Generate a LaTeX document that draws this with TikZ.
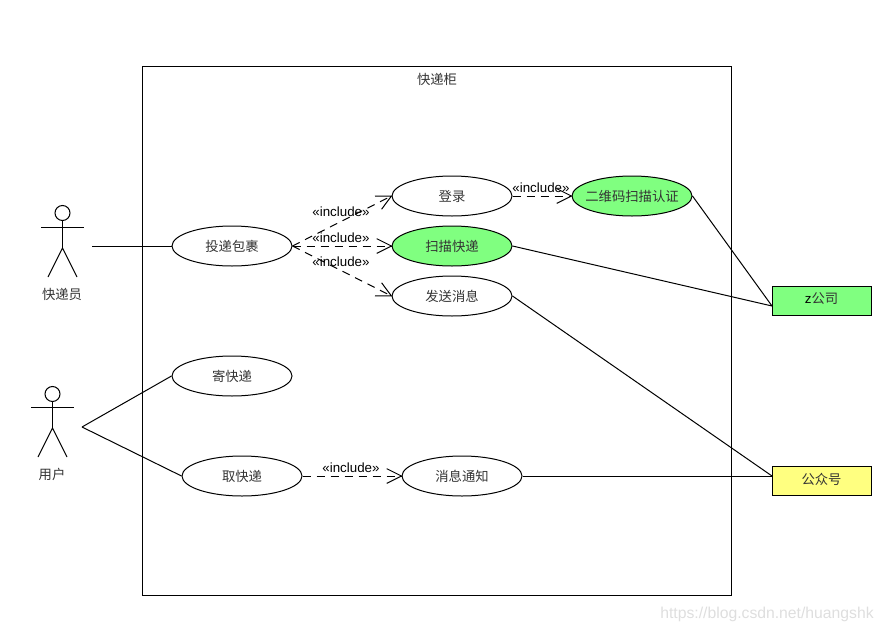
\documentclass[tikz,border=0pt]{standalone}
\usepackage{fontspec}
\setmainfont{Liberation Sans}
\newfontfamily\cjk{Noto Sans CJK SC}
\usetikzlibrary{shapes.geometric,arrows.meta}
\definecolor{greenfill}{HTML}{80FF80}
\definecolor{yellowfill}{HTML}{FFFF80}
\tikzset{
  usecase/.style={draw,ellipse,inner sep=0pt,minimum width=90pt,minimum height=30pt,font=\cjk\fontsize{10}{12}\selectfont,text=black!80},
  extbox/.style={draw,inner sep=0pt,minimum width=74.25pt,minimum height=21.75pt},
  lbl/.style={font=\cjk\fontsize{10}{12}\selectfont,text=black!80,inner sep=0pt},
  incl/.style={font=\fontsize{10}{12}\selectfont,inner sep=0pt},
  dep/.style={->,dash pattern=on 6pt off 4.5pt,shorten >=-0.75pt,>={Straight Barb[length=11pt,width=11pt]}},
}
\begin{document}
\begin{tikzpicture}[x=0.75pt,y=-0.75pt,line width=0.75pt]
\useasboundingbox (0,0) rectangle (883,632);
% frame
\node[draw,inner sep=0pt,minimum width=441.75pt,minimum height=396.5pt] (Frame) at (436.5,330.7) {};
\node[lbl] (FrameT) at (437,79) {快递柜};
% use cases
\node[usecase] (Post) at (232,246) {投递包裹};
\node[usecase] (Login) at (452,196) {登录};
\node[usecase,fill=greenfill] (Scan) at (452,246) {扫描快递};
\node[usecase] (Send) at (452,296) {发送消息};
\node[usecase,fill=greenfill,inner xsep=-6pt] (QR) at (632,196) {二维码扫描认证};
\node[usecase] (Mail) at (232,376) {寄快递};
\node[usecase] (Take) at (242,476) {取快递};
\node[usecase] (Notify) at (462,476) {消息通知};
% external systems
\node[extbox,fill=greenfill] (Z) at (821.5,300.5) {};
\node[lbl] (ZT) at (821.5,299) {{\rmfamily\color{black}z}公司};
\node[extbox,fill=yellowfill] (Pub) at (821.5,480.5) {};
\node[lbl] (PubT) at (821.5,479) {公众号};
\coordinate (ZIn) at (772,306);
\coordinate (PubIn) at (772,476);
% actors
\node[draw,circle,inner sep=0pt,minimum size=11.25pt] (Head1) at (62.5,213) {};
\coordinate (Arm1a) at (41,227);
\coordinate (Arm1b) at (84,227);
\coordinate (Hip1) at (62.5,248);
\coordinate (Leg1a) at (48,277);
\coordinate (Leg1b) at (77,277);
\draw (Head1.south)--(Hip1);
\draw (Arm1a)--(Arm1b);
\draw (Leg1a)--(Hip1)--(Leg1b);
\node[lbl] (Courier) at (62,294) {快递员};
\node[draw,circle,inner sep=0pt,minimum size=11.25pt] (Head2) at (52.5,394) {};
\coordinate (Arm2a) at (31,407);
\coordinate (Arm2b) at (74,407);
\coordinate (Hip2) at (52.5,428);
\coordinate (Leg2a) at (38,457);
\coordinate (Leg2b) at (67,457);
\draw (Head2.south)--(Hip2);
\draw (Arm2a)--(Arm2b);
\draw (Leg2a)--(Hip2)--(Leg2b);
\node[lbl] (User) at (52,474) {用户};
\coordinate (From1) at (92,246);
\coordinate (From2) at (82,427);
% plain links
\draw (From1)--(Post.west);
\draw (From2)--(Mail.west);
\draw (From2)--(Take.west);
\draw (QR.east)--(ZIn);
\draw (Scan.east)--(ZIn);
\draw (Send.east)--(PubIn);
\draw (Notify.east)--(PubIn);
% include links
\draw[dep] (Post.east)--(Login.west);
\draw[dep] (Post.east)--(Scan.west);
\draw[dep] (Post.east)--(Send.west);
\draw[dep] (Login.east)--(QR.west);
\draw[dep] (Take.east)--(Notify.west);
\node[incl] (Inc1) at (341,212) {«include»};
\node[incl] (Inc2) at (341,238) {«include»};
\node[incl] (Inc3) at (341,262) {«include»};
\node[incl] (Inc4) at (541,188) {«include»};
\node[incl] (Inc5) at (351,468) {«include»};
% site mark
\node[incl,text=black!13,font=\fontsize{11.8}{14}\selectfont] (Mark) at (767,614) {https://blog.csdn.net/huangshk};
\end{tikzpicture}
\end{document}
